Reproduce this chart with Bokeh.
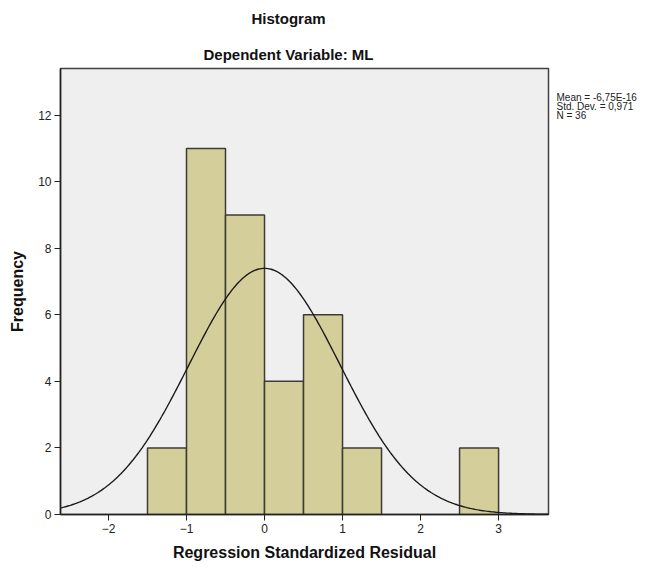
import numpy as np
from bokeh.plotting import figure
from bokeh.layouts import row, column
from bokeh.core.properties import value
from bokeh.models import Range1d, FixedTicker, ColumnDataSource
from bokeh.embed import file_html
from bokeh.resources import INLINE

# Data
bin_left = [-1.5, -1.0, -0.5, 0.0, 0.5, 1.0, 2.5]
bin_right = [-1.0, -0.5, 0.0, 0.5, 1.0, 1.5, 3.0]
counts = [2, 11, 9, 4, 6, 2, 2]
mean_val = -6.75e-16
std_val = 0.971
n_obs = 36
bin_width = 0.5
x_ticks = [-2, -1, 0, 1, 2, 3]
y_ticks = [0, 2, 4, 6, 8, 10, 12]
titles = ["Histogram", "Dependent Variable: ML"]
stats = ["Mean = -6,75E-16", "Std. Dev. = 0,971", "N = 36"]

FONT = "Liberation Sans"

# ---- title strip (page-pixel coordinates: x 60..548, y 0..66 from the top) ----
t = figure(width=656, height=66, output_backend="svg", toolbar_location=None,
           x_range=Range1d(60, 548), y_range=Range1d(66, 0),
           min_border_left=60, min_border_right=108, min_border_top=0,
           min_border_bottom=0, outline_line_color=None,
           x_axis_location=None, y_axis_location=None)
t.grid.visible = False
t.background_fill_color = "white"
t.border_fill_color = "white"
t.text(x=[288, 288], y=[18, 54], text=titles, text_font=value(FONT),
       text_font_style="bold", text_font_size="15px", text_color="#111111",
       text_align="center", text_baseline="middle")

# ---- main histogram ----
p = figure(width=550, height=505, output_backend="svg", toolbar_location=None,
           x_range=Range1d(-2.615, 3.64), y_range=Range1d(0, 13.4),
           min_border_left=60, min_border_right=2, min_border_top=2,
           min_border_bottom=57)
p.background_fill_color = "#efefef"
p.border_fill_color = "white"
p.outline_line_color = "#404040"
p.outline_line_width = 1.5
p.xgrid.visible = False
p.ygrid.visible = False

src = ColumnDataSource(dict(left=bin_left, right=bin_right, top=counts,
                            bottom=[0] * len(counts)))
p.quad(left="left", right="right", top="top", bottom="bottom", source=src,
       fill_color="#d4cf9a", line_color="#3c3c34", line_width=1.5)

xs = np.linspace(-2.615, 3.64, 300)
ys = n_obs * bin_width / (std_val * np.sqrt(2 * np.pi)) * np.exp(-0.5 * ((xs - mean_val) / std_val) ** 2)
p.line(xs, ys, line_color="#1a1a1a", line_width=1.4)

for ax in (p.xaxis[0], p.yaxis[0]):
    ax.axis_line_color = "#222222"
    ax.axis_line_width = 1.5
    ax.major_tick_line_color = "#222222"
    ax.major_tick_out = 6
    ax.major_tick_in = 0
    ax.minor_tick_line_color = None
    ax.major_label_text_font = FONT
    ax.major_label_text_font_size = "12px"
    ax.major_label_text_color = "#222222"
    ax.axis_label_text_font = FONT
    ax.axis_label_text_font_style = "bold"
    ax.axis_label_text_font_size = "16px"
    ax.axis_label_text_color = "#111111"

p.xaxis.ticker = FixedTicker(ticks=x_ticks)
p.yaxis.ticker = FixedTicker(ticks=y_ticks)
p.xaxis.axis_label = "Regression Standardized Residual"
p.yaxis.axis_label = "Frequency"
p.xaxis.major_label_standoff = 3
p.xaxis.axis_label_standoff = 8
p.yaxis.major_label_standoff = 3
p.yaxis.axis_label_standoff = 9

# ---- statistics panel on the right (y = page pixel rows, frame 68..514) ----
s = figure(width=106, height=505, output_backend="svg", toolbar_location=None,
           x_range=Range1d(0, 106), y_range=Range1d(514, 68),
           min_border_left=0, min_border_right=0, min_border_top=2,
           min_border_bottom=57, outline_line_color=None,
           x_axis_location=None, y_axis_location=None)
s.grid.visible = False
s.background_fill_color = "white"
s.border_fill_color = "white"
stat_y = [97, 106, 115]
s.text(x=[6] * len(stats), y=stat_y, text=stats, text_font=value(FONT),
       text_font_size="10px", text_color="#222222", text_align="left",
       text_baseline="middle")

layout = column(t, row(p, s, spacing=0), spacing=0)
open("out.html", "w").write(file_html(layout, INLINE))
